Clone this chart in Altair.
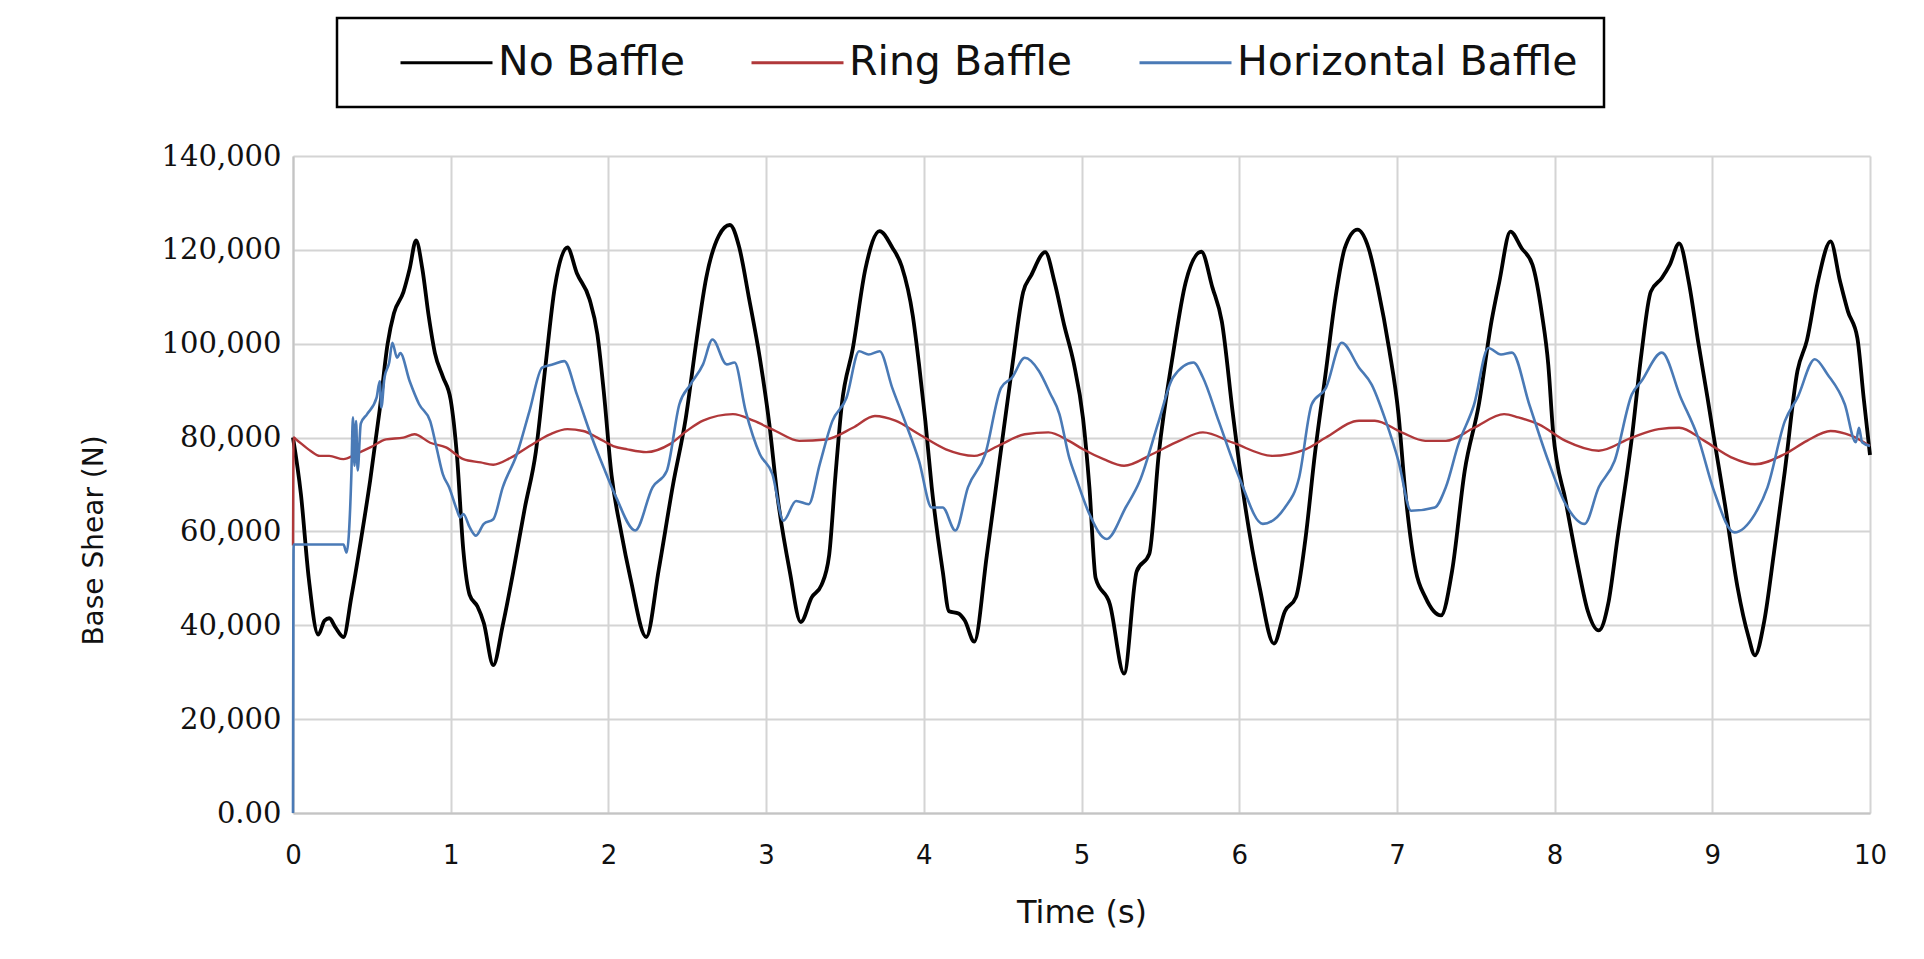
import altair as alt
import pandas as pd

SERIES = ["No Baffle", "Ring Baffle", "Horizontal Baffle"]
COLORS = ["#000000", "#b0383a", "#4a7ab6"]

no_t = [0.00, 0.05, 0.10, 0.16, 0.20, 0.23, 0.27, 0.32, 0.37, 0.43, 0.49, 0.55, 0.60, 0.64, 0.70, 0.74,
        0.78, 0.82, 0.86, 0.90, 0.95, 1.00, 1.04, 1.08, 1.12, 1.17, 1.21, 1.27, 1.33, 1.40, 1.47, 1.54,
        1.60, 1.66, 1.74, 1.80, 1.88, 1.93, 1.97, 2.02, 2.08, 2.14, 2.24, 2.32, 2.41, 2.49, 2.56, 2.62,
        2.70, 2.77, 2.83, 2.89, 2.96, 3.02, 3.07, 3.15, 3.22, 3.29, 3.35, 3.40, 3.44, 3.48, 3.55, 3.63,
        3.72, 3.80, 3.86, 3.93, 3.97, 4.01, 4.05, 4.12, 4.16, 4.22, 4.26, 4.32, 4.40, 4.48, 4.56, 4.63,
        4.68, 4.77, 4.83, 4.89, 4.95, 5.01, 5.05, 5.09, 5.18, 5.27, 5.35, 5.43, 5.49, 5.58, 5.66, 5.76,
        5.83, 5.89, 5.96, 6.02, 6.13, 6.22, 6.29, 6.36, 6.42, 6.48, 6.55, 6.61, 6.67, 6.75, 6.82, 6.88,
        6.95, 7.01, 7.05, 7.12, 7.18, 7.28, 7.35, 7.43, 7.52, 7.60, 7.65, 7.72, 7.79, 7.86, 7.92, 7.96,
        7.99, 8.07, 8.15, 8.21, 8.28, 8.34, 8.40, 8.49, 8.55, 8.61, 8.68, 8.73, 8.79, 8.85, 8.91, 8.97,
        9.01, 9.08, 9.16, 9.23, 9.27, 9.33, 9.39, 9.46, 9.54, 9.60, 9.67, 9.75, 9.81, 9.86, 9.92, 9.96,
        10.00]
no_v = [80000, 68000, 50000, 38000, 41000, 41500, 39500, 37500, 46000, 58000, 71000, 86000, 100000, 106500, 111000, 116000,
        122000, 116000, 106000, 98000, 93000, 88000, 76000, 56000, 46500, 44000, 40500, 31500, 40000, 52000, 65000, 77000,
        95000, 112000, 120500, 115000, 109500, 102000, 90000, 72000, 60000, 50000, 37500, 52000, 70000, 84000, 101000, 114000,
        123000, 125300, 120500, 110000, 97000, 83000, 68000, 51500, 40700, 46000, 48500, 55000, 72000, 87000, 99000, 116000,
        124000, 120500, 116500, 106000, 95500, 83500, 69500, 51500, 43000, 42500, 41000, 36500, 55000, 75000, 95000, 111000,
        114500, 119500, 113000, 104000, 96000, 84000, 69500, 50000, 44500, 29700, 51500, 55200, 76500, 97700, 113000, 119600,
        112000, 104700, 85000, 69500, 48000, 36100, 43000, 46000, 58400, 76500, 94200, 109700, 120400, 124300, 120400, 111800,
        99000, 85000, 69500, 51600, 46000, 42100, 51600, 72900, 87100, 104800, 113300, 123900, 120400, 116800, 106200, 95500,
        81400, 66500, 52300, 43100, 38900, 44600, 58800, 80000, 97700, 111100, 114000, 116800, 121400, 113300, 100500, 88400,
        80000, 65800, 48100, 37500, 33600, 41000, 55200, 72900, 94200, 100700, 113300, 121800, 113300, 106900, 101200, 88400,
        76300]

ring_t = [0.000, 0.004, 0.02, 0.11, 0.17, 0.23, 0.32, 0.40, 0.49, 0.59, 0.70, 0.77, 0.87, 0.97, 1.08, 1.19,
          1.27, 1.38, 1.50, 1.63, 1.74, 1.84, 1.93, 2.03, 2.12, 2.24, 2.39, 2.50, 2.60, 2.79, 2.92, 3.06,
          3.21, 3.38, 3.55, 3.69, 3.82, 3.97, 4.14, 4.32, 4.47, 4.64, 4.79, 4.92, 5.01, 5.14, 5.27, 5.45,
          5.62, 5.77, 5.96, 6.21, 6.42, 6.55, 6.76, 6.86, 7.03, 7.18, 7.31, 7.49, 7.68, 7.77, 7.90, 8.07,
          8.28, 8.49, 8.66, 8.79, 8.95, 9.12, 9.27, 9.46, 9.60, 9.75, 9.88, 10.00]
ring_v = [57000, 80000, 79600, 77200, 76100, 76100, 75400, 76500, 77900, 79600, 80000, 80700, 78900, 77900, 75400, 74700,
          74200, 75700, 78200, 80700, 81800, 81400, 80000, 78200, 77500, 76900, 78600, 81500, 83600, 85000, 83600, 81400,
          79300, 79600, 82100, 84600, 83600, 80700, 77500, 76100, 78200, 80700, 81100, 79300, 77500, 75400, 74000, 76500,
          79300, 81100, 78900, 76100, 77500, 80000, 83600, 83600, 81100, 79300, 79300, 82100, 85000, 84300, 82800, 79300,
          77200, 80000, 81800, 82100, 79300, 75800, 74300, 76500, 79300, 81400, 80400, 78200]

hor_t = [0.000, 0.004, 0.32, 0.34, 0.37, 0.38, 0.39, 0.40, 0.41, 0.43, 0.47, 0.53, 0.55, 0.56, 0.58, 0.61,
         0.63, 0.66, 0.68, 0.74, 0.80, 0.87, 0.91, 0.95, 0.99, 1.04, 1.06, 1.08, 1.12, 1.16, 1.21, 1.27,
         1.33, 1.42, 1.50, 1.58, 1.65, 1.72, 1.80, 1.88, 1.97, 2.05, 2.17, 2.28, 2.37, 2.45, 2.52, 2.60,
         2.66, 2.75, 2.80, 2.87, 2.96, 3.04, 3.11, 3.19, 3.27, 3.34, 3.42, 3.51, 3.59, 3.65, 3.72, 3.80,
         3.88, 3.97, 4.05, 4.12, 4.20, 4.28, 4.39, 4.49, 4.56, 4.64, 4.73, 4.80, 4.86, 4.92, 4.97, 5.05,
         5.16, 5.28, 5.37, 5.49, 5.58, 5.71, 5.77, 5.87, 6.00, 6.15, 6.29, 6.38, 6.46, 6.55, 6.65, 6.76,
         6.84, 6.93, 7.01, 7.09, 7.24, 7.31, 7.39, 7.49, 7.58, 7.66, 7.73, 7.84, 7.96, 8.07, 8.19, 8.28,
         8.38, 8.49, 8.55, 8.68, 8.80, 8.91, 9.01, 9.14, 9.27, 9.35, 9.46, 9.54, 9.65, 9.73, 9.84, 9.91,
         9.93, 9.95, 10.00]
hor_v = [0, 57200, 57200, 55500, 72000, 84300, 74000, 83500, 73000, 83000, 85000, 88500, 92000, 86400, 92800, 96000,
         100200, 97000, 98000, 92000, 87100, 83500, 77900, 72200, 69400, 64500, 63000, 63700, 60900, 59100, 61600, 62600,
         69400, 76500, 85700, 94900, 95600, 96300, 89200, 81400, 73600, 67200, 60200, 69400, 72900, 87100, 91300, 95600,
         100900, 95600, 96000, 85700, 76500, 72200, 62300, 66500, 65800, 74300, 83500, 88500, 98400, 97700, 98400, 90600,
         83500, 75000, 65100, 65100, 60200, 69400, 76500, 90600, 92800, 97000, 94200, 89500, 85000, 76000, 71000, 63700,
         58400, 65100, 70800, 83500, 92800, 96000, 92800, 83500, 71500, 61600, 65100, 71500, 87100, 90600, 100200, 94900,
         91300, 83500, 75000, 64400, 65100, 69400, 78600, 87100, 99100, 97700, 98100, 87000, 75000, 65800, 61600, 69400,
         75000, 89200, 92000, 98100, 88500, 80000, 68700, 59800, 63700, 69400, 83500, 88500, 96700, 93500, 87100, 79000,
         82100, 79000, 78200]

y_ticks = [0, 20000, 40000, 60000, 80000, 100000, 120000, 140000]
x_ticks = list(range(0, 11))


def frame(name, ts, vs):
    return pd.DataFrame({"t": ts, "v": vs, "series": name, "i": range(len(ts))})


color_scale = alt.Scale(domain=SERIES, range=COLORS)

x_enc = alt.X("t:Q", scale=alt.Scale(domain=[0, 10], nice=False),
              axis=alt.Axis(values=x_ticks, title="Time (s)", format="d", labelFlush=False))
y_enc = alt.Y("v:Q", scale=alt.Scale(domain=[0, 140000], nice=False),
              axis=alt.Axis(values=y_ticks, title="Base Shear (N)",
                            labelExpr="datum.value == 0 ? '0.00' : format(datum.value, ',')"))
c_enc = alt.Color("series:N", scale=color_scale, sort=SERIES,
                  legend=alt.Legend(title=None))


def layer(df, sw):
    return alt.Chart(df).mark_line(strokeWidth=sw, interpolate="monotone").encode(
        x=x_enc, y=y_enc, color=c_enc, order="i:Q")


# frame drawn around the legend
legend_box = alt.Chart(pd.DataFrame({"box": [0]})).mark_rect(
    filled=False, stroke="#000000", strokeWidth=2.5
).encode(x=alt.value(44), x2=alt.value(1311), y=alt.value(-138), y2=alt.value(-49))

chart = alt.layer(
    layer(frame(SERIES[0], no_t, no_v), 3.8),
    layer(frame(SERIES[1], ring_t, ring_v), 2.4),
    layer(frame(SERIES[2], hor_t, hor_v), 2.6),
    legend_box,
).properties(
    width=1577, height=657,
    autosize=alt.AutoSizeParams(type="none"),
    padding={"left": 285, "top": 148, "right": 40, "bottom": 120},
).configure_view(
    stroke="transparent"
).configure_axis(
    grid=True, gridColor="#d4d4d4", gridWidth=2,
    domainColor="#c4c4c4", domainWidth=2, ticks=False,
    labelColor="#111111", titleColor="#111111",
).configure_axisX(
    labelFont="DejaVu Sans", labelFontSize=26, labelPadding=29,
    titleFont="DejaVu Sans", titleFontSize=32, titleFontWeight="normal", titlePadding=29,
).configure_axisY(
    labelFont="DejaVu Serif", labelFontSize=29, labelPadding=12,
    titleFont="DejaVu Sans", titleFontSize=28, titleFontWeight="normal",
    titleAngle=270, titleX=-199, titleY=384, titleAlign="center", titleBaseline="middle",
).configure_legend(
    orient="none", legendX=106, legendY=-141, direction="horizontal",
    padding=0,
    symbolType="stroke", symbolSize=8464, symbolStrokeWidth=3,
    labelFont="DejaVu Sans", labelFontSize=41, labelColor="#111111", labelOffset=4,
    columnPadding=60, labelLimit=600,
)

chart.save("out.html", embed_options={"renderer": "svg", "actions": False})
